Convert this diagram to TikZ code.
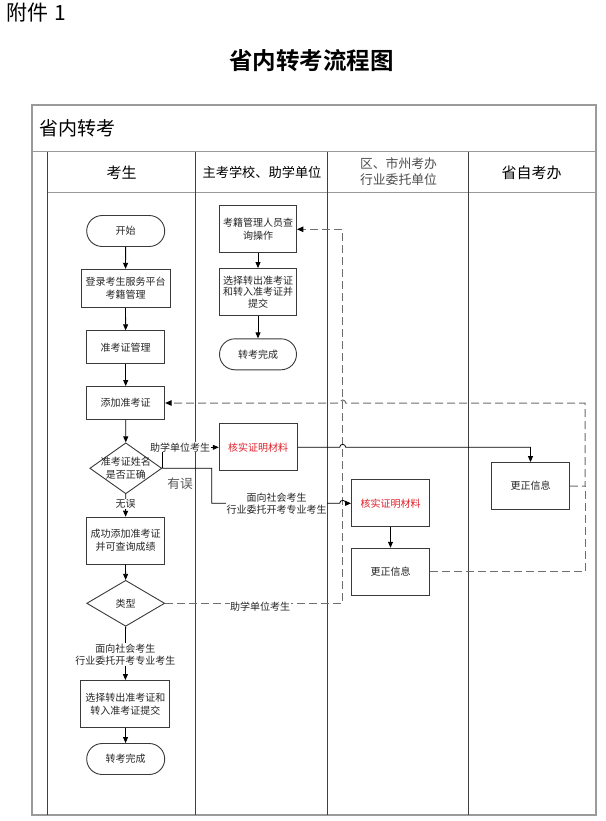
\documentclass[tikz,border=0pt]{standalone}
\usepackage{fontspec}
\setmainfont{Noto Sans CJK SC}[BoldFont={Noto Sans CJK SC Bold}]
\usetikzlibrary{shapes.geometric,arrows.meta,calc}
\definecolor{framegray}{HTML}{9A9A9A}
\definecolor{lanedark}{HTML}{404040}
\definecolor{boxline}{HTML}{3A3A3A}
\definecolor{txt}{HTML}{262626}
\definecolor{redtxt}{HTML}{E0202A}
\definecolor{dashgray}{HTML}{6E6E6E}
\tikzset{
  every node/.style={text=txt},
  box/.style={draw=boxline, line width=0.9pt, rectangle, inner sep=1pt, align=center,
    font=\fontsize{10}{13}\selectfont, fill=white},
  term/.style={box, rounded corners=15.5pt, minimum width=78pt, minimum height=31pt},
  dia/.style={draw=boxline, line width=0.9pt, diamond, inner sep=0pt, fill=white},
  flow/.style={draw=black, line width=0.8pt, -{Triangle[length=6pt,width=5pt]}},
  dsh/.style={draw=dashgray, line width=1pt, dash pattern=on 8pt off 4pt},
  dsharr/.style={dsh, -{Triangle[length=6.5pt,width=5.5pt,color=black]}},
  lbl/.style={fill=white, inner sep=0.5pt, align=center, font=\fontsize{10}{12}\selectfont},
  hdr/.style={font=\fontsize{15}{18}\selectfont, text=black},
}
\begin{document}
\begin{tikzpicture}[x=1pt,y=1pt]
\useasboundingbox (0,0) rectangle (605,-821);
\fill[white] (0,0) rectangle (605,-821);

% headings
\node[anchor=west, font=\fontsize{21}{24}\selectfont, text=black, inner sep=0pt] (att) at (6,-13) {附件\hspace{0.3em}1};
\node[font=\fontsize{23.5}{26}\bfseries, text=black] (title) at (311.7,-61) {省内转考流程图};

% frame
\draw[framegray, line width=1.6pt] (32,-105) rectangle (596,-815);
\draw[framegray, line width=1.2pt] (32,-151.7) -- (596,-151.7);
\draw[framegray, line width=1.2pt] (47.3,-192.3) -- (596,-192.3);
\draw[lanedark, line width=1.1pt] (47.3,-151.7) -- (47.3,-815);
\draw[lanedark, line width=1.1pt] (195.7,-151.7) -- (195.7,-815);
\draw[lanedark, line width=1.1pt] (327.7,-151.7) -- (327.7,-815);
\draw[lanedark, line width=1.1pt] (468.3,-151.7) -- (468.3,-815);

\node[anchor=west, font=\fontsize{19}{22}\selectfont, text=black] (pool) at (36,-128) {省内转考};
\node[hdr] (h1) at (121.5,-172.5) {考生};
\node[font=\fontsize{13.2}{16}\selectfont, text=black] (h2) at (262,-172.5) {主考学校、助学单位};
\node[font=\fontsize{12.8}{16}\selectfont, text=black!70, align=center] (h3) at (398.5,-172) {区、市州考办\\行业委托单位};
\node[hdr] (h4) at (531.7,-172.5) {省自考办};

% lane 1
\node[term] (start) at (125.7,-231) {开始};
\node[box, minimum width=89pt, minimum height=38pt] (login) at (125.5,-288.3) {登录考生服务平台\\考籍管理};
\node[box, minimum width=78pt, minimum height=33pt] (mgmt) at (125.7,-347.3) {准考证管理};
\node[box, minimum width=78pt, minimum height=33pt] (add) at (125.7,-403) {添加准考证};
\node[dia, minimum width=72pt, minimum height=51pt,
  label={[align=center, font=\fontsize{10}{12.5}\selectfont, text=txt]center:准考证姓名\\是否正确}] (d1) at (125.8,-468.3) {};
\node[box, minimum width=78pt, minimum height=47pt] (succ) at (125.5,-540.7) {成功添加准考证\\并可查询成绩};
\node[dia, minimum width=78pt, minimum height=46pt,
  label={[font=\fontsize{10}{12}\selectfont, text=txt]center:类型}] (type) at (125.7,-603.3) {};
\node[box, minimum width=89pt, minimum height=47pt] (sel) at (125.3,-704) {选择转出准考证和\\转入准考证提交};
\node[term] (end1) at (125.7,-759) {转考完成};

% lane 2
\node[box, minimum width=77pt, minimum height=47pt] (q) at (258,-229.3) {考籍管理人员查\\询操作};
\node[box, minimum width=77pt, minimum height=47pt, font=\fontsize{10}{11.5}\selectfont] (sel2) at (258,-292) {选择转出准考证\\和转入准考证并\\提交};
\node[term, minimum width=77pt] (end2) at (258,-354.3) {转考完成};
\node[box, minimum width=78pt, minimum height=47pt, text=redtxt] (v1) at (258.2,-447.3) {核实证明材料};

% lane 3
\node[box, minimum width=78pt, minimum height=47pt, text=redtxt] (v2) at (390.5,-503.3) {核实证明材料};
\node[box, minimum width=78pt, minimum height=47pt] (fix2) at (390.5,-571.7) {更正信息};

% lane 4
\node[box, minimum width=78pt, minimum height=47pt] (fix3) at (530.5,-486) {更正信息};

% helper coordinates
\coordinate (vx) at (342.7,-229.3);
\coordinate (rx) at (585,-403);
\coordinate (bend) at (211.7,-503.3);

% solid flows lane 1
\draw[flow] (start) -- (login);
\draw[flow] (login) -- (mgmt);
\draw[flow] (mgmt) -- (add);
\draw[flow] (add) -- (d1);
\draw[flow] (d1) -- (succ) node[lbl, pos=0.45] (ok) {无误};
\draw[flow] (succ) -- (type);
\draw[flow] (type) -- (sel) node[lbl, pos=0.52] (tl) {面向社会考生\\行业委托开考专业考生};
\draw[flow] (sel) -- (end1);

% lane 2 flows
\draw[flow] (q) -- (sel2);
\draw[flow] (sel2) -- (end2);

% lane 3 flow
\draw[flow] (v2) -- (fix2);

% dashed lines
\draw[dsh] (fix2.east) -- (rx |- fix2.east) -- (rx |- fix3.east);
\draw[dsharr] (fix3.east) -- (rx |- fix3.east) -- (rx) -- ($(vx |- rx)+(3pt,0)$)
  arc[start angle=0, end angle=180, radius=3pt] -- (add.east);
\draw[dsharr] (type.east) -- (vx |- type.east) -- (vx) -- (q.east);
\node[lbl] (tl2) at (260,-606.5) {助学单位考生};

% branches from d1
\draw[flow] (d1.east) -- (d1.east |- v1.west) -- (v1.west);
\node[lbl] (zl) at (180,-447.3) {助学单位考生};
\draw[flow] (d1.east) -- (d1.east -| bend) -- (bend) -- ($(vx |- bend)+(-3pt,0)$)
  arc[start angle=180, end angle=0, radius=3pt] -- (v2.west);
\node[lbl] (sl) at (276.7,-503.3) {面向社会考生\\行业委托开考专业考生};
\node[font=\fontsize{12.7}{14}\selectfont, text=black!65] (err) at (180,-484) {有误};

% v1 to fix3
\draw[flow] (v1.east) -- ($(vx |- v1.east)+(-3pt,0)$)
  arc[start angle=180, end angle=0, radius=3pt] -- (fix3.north |- v1.east) -- (fix3.north);
\end{tikzpicture}
\end{document}
